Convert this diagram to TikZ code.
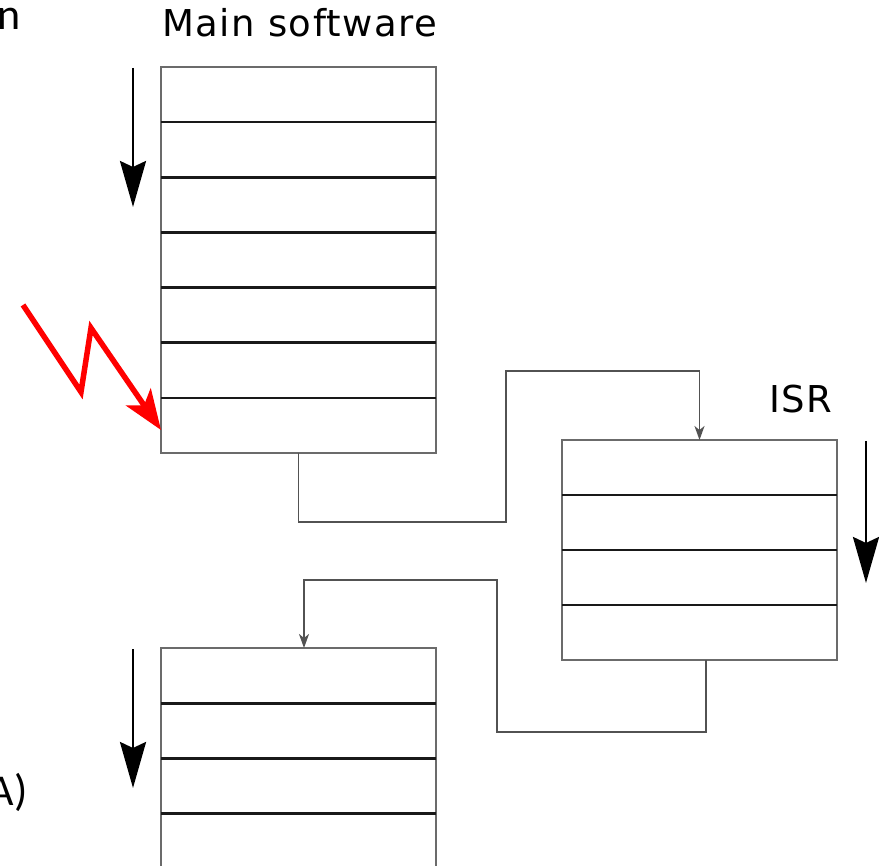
\documentclass[tikz,border=0pt]{standalone}
\usepackage{fontspec}
\setmainfont{DejaVu Sans}
\newfontfamily\lblfont{DejaVu Sans}[LetterSpace=4]
\newfontfamily\calfont{Carlito}
\usetikzlibrary{arrows.meta,calc}
\definecolor{boxgray}{gray}{0.42}
\definecolor{conngray}{gray}{0.32}
\tikzset{
  x=1pt,y=-1pt,
  memblock/.style={draw=boxgray,line width=1.8pt,rectangle,minimum width=275pt,inner sep=0pt,outer sep=0pt},
  divider/.style={draw=black!90,line width=2.6pt},
  conn/.style={draw=conngray,line width=1.7pt,-{Stealth[length=14pt,width=10pt,inset=4pt]}},
  flow/.style={draw=black,line width=2.8pt,-{Stealth[length=46pt,width=26pt,inset=6pt]}},
  bolt/.style={draw=red,line width=5.5pt,line join=miter,-{Stealth[length=40pt,width=30pt,inset=10pt]}},
  lbl/.style={inner sep=0pt,anchor=base west,font=\lblfont\fontsize{37}{42}\selectfont},
  cutlbl/.style={inner sep=0pt,anchor=base east,font=\calfont\fontsize{44}{48}\selectfont}
}
\begin{document}
\begin{tikzpicture}
\useasboundingbox (0,0) rectangle (879,866);
\clip (0,0) rectangle (879,866);
% blocks
\node[memblock,minimum height=386pt] (main) at (298.5,260) {};
\node[memblock,minimum height=220pt] (isr) at (699.5,550) {};
\node[memblock,minimum height=221pt] (low) at (298.5,758.5) {};
% dividers
\foreach \i in {1,...,6}
  \draw[divider] ($(main.north west)!\i/7!(main.south west)$) -- ($(main.north east)!\i/7!(main.south east)$);
\foreach \i in {1,...,3}
  \draw[divider] ($(isr.north west)!\i/4!(isr.south west)$) -- ($(isr.north east)!\i/4!(isr.south east)$);
\foreach \i in {1,...,3}
  \draw[divider] ($(low.north west)!\i/4!(low.south west)$) -- ($(low.north east)!\i/4!(low.south east)$);
% labels
\node[lbl] (tmain) at (162,37) {Main software};
\node[lbl] (tisr) at (769,413) {ISR};
\node[cutlbl] (tn) at (21,30) {n};
\node[cutlbl] (ta) at (28,805) {A)};
% connectors
\coordinate (c1a) at (506,522);
\coordinate (c1b) at (699.5,371);
\draw[conn] (main.south) |- (c1a) |- (c1b) -- (isr.north);
\coordinate (s2) at ([xshift=6.5pt]isr.south);
\coordinate (c2a) at (497,732);
\coordinate (c2b) at (304,580);
\coordinate (e2) at ([xshift=5.5pt]low.north);
\draw[conn] (s2) |- (c2a) |- (c2b) -- (e2);
% flow arrows
\coordinate (f1s) at (133,68);
\coordinate (f1e) at (133,207);
\draw[flow] (f1s) -- (f1e);
\coordinate (f2s) at (866,441);
\coordinate (f2e) at (866,583);
\draw[flow] (f2s) -- (f2e);
\coordinate (f3s) at (133,649);
\coordinate (f3e) at (133,788);
\draw[flow] (f3s) -- (f3e);
% interrupt bolt
\coordinate (b0) at (23,305);
\coordinate (b1) at (81,392);
\coordinate (b2) at (91,328);
\coordinate (b3) at (main.west |- 0,430);
\draw[bolt] (b0) -- (b1) -- (b2) -- (b3);
\end{tikzpicture}
\end{document}
